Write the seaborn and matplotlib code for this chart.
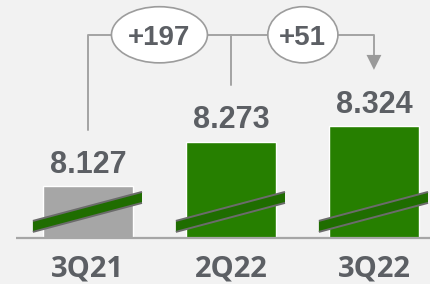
import numpy as np
import pandas as pd
import matplotlib
matplotlib.use("Agg")
import matplotlib.pyplot as plt
import seaborn as sns
from matplotlib.patches import Ellipse, Polygon

# ── Data ──────────────────────────────────────────────────────────────────────
quarters = ["3Q21", "2Q22", "3Q22"]
values = [8.127, 8.273, 8.324]
value_labels = ["8.127", "8.273", "8.324"]
bar_colors = ["#a6a6a6", "#267f00", "#267f00"]

BASE = 7.957  # broken axis: bars start from here

BG = "#f2f2f2"
TXT = "#5c5f64"
LINE = "#a3a3a3"

heights = [v - BASE for v in values]
delta_total = f"+{round((values[2] - values[0]) * 1000)}"
delta_qoq = f"+{round((values[2] - values[1]) * 1000)}"

# ── Figure ────────────────────────────────────────────────────────────────────
sns.set_style("white")
plt.rcParams["font.family"] = ["Liberation Sans", "DejaVu Sans"]

fig = plt.figure(figsize=(4.31, 2.84), dpi=100, facecolor=BG)
ax = fig.add_axes([0, 46 / 284, 1, 238 / 284])
ax.set_facecolor(BG)

df = pd.DataFrame({"quarter": quarters, "height": heights})
sns.barplot(data=df, x="quarter", y="height", hue="quarter",
            palette=bar_colors, legend=False, width=0.63, saturation=1, ax=ax)

ax.set_xlim(-0.615, 2.399)
ax.set_ylim(0, 0.78)
for s in ax.spines.values():
    s.set_visible(False)
ax.set_yticks([])
ax.set_xlabel("")
ax.set_ylabel("")
ax.tick_params(axis="x", length=0, pad=12, labelsize=21, labelcolor=TXT)
for lbl in ax.get_xticklabels():
    lbl.set_fontfamily("Open Sans")
    lbl.set_fontweight("bold")

# baseline
ax.hlines(0, -0.503, 2.45, color="#a6a6a6", lw=1.6, clip_on=False, zorder=3)

# value labels
for i, h in enumerate(heights):
    ax.annotate(value_labels[i], (i, h), xytext=(0, 9.5), textcoords="offset points",
                ha="center", va="baseline", fontsize=22, fontweight="bold", color=TXT)

# axis break bands
for i in range(len(quarters)):
    lo = [(i - 0.385, 0.020), (i + 0.378, 0.115)]
    hi = [(i - 0.385, 0.056), (i + 0.378, 0.151)]
    ax.add_patch(Polygon(lo + hi[::-1], closed=True, fc="#1f6d00", ec="none", zorder=4))
    for seg in (lo, hi):
        ax.plot([p[0] for p in seg], [p[1] for p in seg], color="#6b6b6b", lw=1.4,
                solid_capstyle="butt", zorder=5)

# connectors
br = 0.666
ax.plot([0, 0, 2, 2], [0.354, br, br, 0.60], color=LINE, lw=1.4, zorder=2)
ax.plot([1, 1], [br, 0.502], color=LINE, lw=1.4, zorder=2)
ax.add_patch(Polygon([(2 - 0.052, 0.60), (2 + 0.052, 0.60), (2, 0.551)],
                     closed=True, fc="#9a9a9a", ec="none", zorder=3))

for cx, w, txt in [(0.5, 0.671, delta_total), (1.503, 0.49, delta_qoq)]:
    ax.add_patch(Ellipse((cx, br), w, 0.184, fc="white", ec="#9c9c9c", lw=1.2, zorder=5))
    ax.text(cx, br, txt, ha="center", va="center_baseline", fontsize=20,
            fontweight="bold", color=TXT, zorder=6)

fig.savefig("out.png", dpi=100, facecolor=BG)
